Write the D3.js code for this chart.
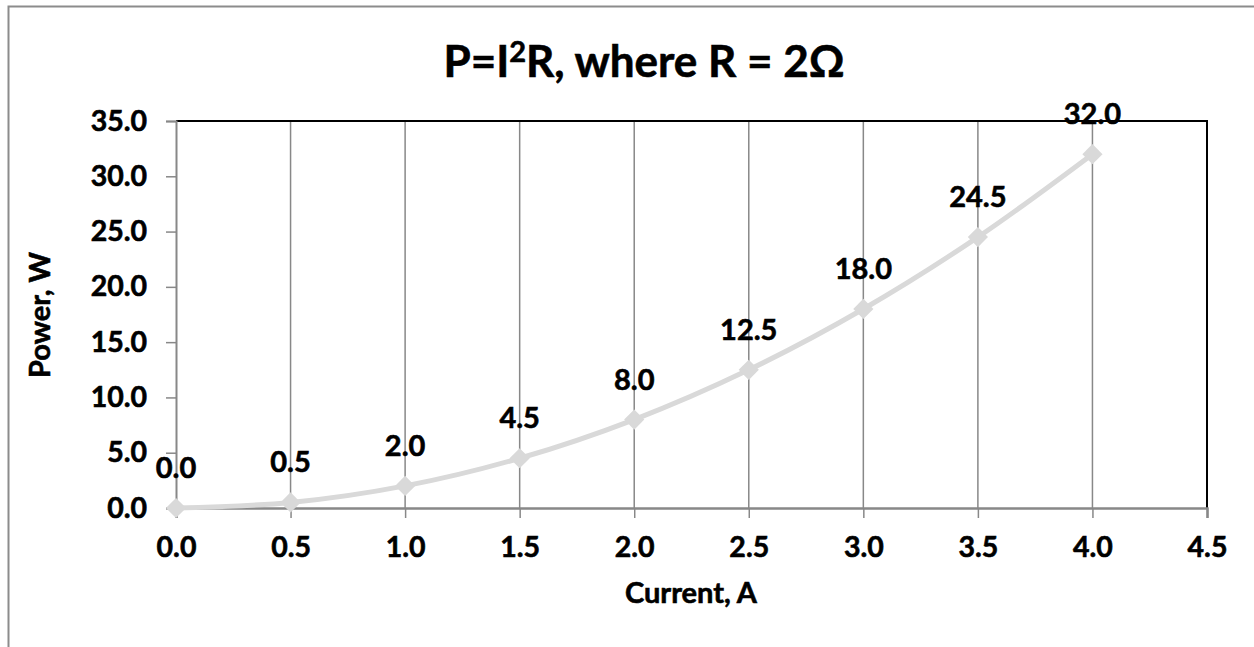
<!DOCTYPE html>
<html>
<head>
<meta charset="utf-8">
<script src="https://cdn.jsdelivr.net/npm/d3@7"></script>
<style>
  html, body { margin: 0; padding: 0; background: #fff; }
  svg { display: block; }
</style>
</head>
<body>
<svg id="chart" width="1254" height="647"></svg>
<script>
const current = [0.0, 0.5, 1.0, 1.5, 2.0, 2.5, 3.0, 3.5, 4.0];
const power = [0.0, 0.5, 2.0, 4.5, 8.0, 12.5, 18.0, 24.5, 32.0];
const xTicks = [0.0, 0.5, 1.0, 1.5, 2.0, 2.5, 3.0, 3.5, 4.0, 4.5];
const yTicks = [0.0, 5.0, 10.0, 15.0, 20.0, 25.0, 30.0, 35.0];
const titleMain = "P=I";
const titleSup = "2";
const titleRest = "R, where R = 2Ω";
const xTitle = "Current, A";
const yTitle = "Power, W";

(function () {
const svg = d3.select("#chart");
const W = 1254, H = 647;
const pL = 176, pR = 1207, pT = 121, pB = 508;
const FF = "Lato, 'Open Sans', sans-serif";
const styleText = sel => sel.attr("font-family", FF).attr("font-weight", "bold")
  .attr("fill", "#000").attr("stroke", "#000").attr("stroke-width", 0.6);

// outer chart frame (cropped)
svg.append("path")
  .attr("d", `M8.5,${H + 2} L8.5,6.5 L${W + 2},6.5`)
  .attr("fill", "none").attr("stroke", "#8c8c8c").attr("stroke-width", 2);

const x = d3.scaleLinear().domain([0, 4.5]).range([pL, pR]);
const y = d3.scaleLinear().domain([0, 35]).range([pB, pT]);

// vertical gridlines
svg.append("g").selectAll("line").data(xTicks.filter(d => d > 0 && d < 4.5)).join("line")
  .attr("x1", d => x(d)).attr("x2", d => x(d))
  .attr("y1", pT).attr("y2", pB)
  .attr("stroke", "#888").attr("stroke-width", 1.5);

// plot border top/right (black)
svg.append("path")
  .attr("d", `M${pL},${pT} L${pR},${pT} L${pR},${pB}`)
  .attr("fill", "none").attr("stroke", "#000").attr("stroke-width", 2);

// x axis
const xAxis = d3.axisBottom(x).tickValues(xTicks).tickFormat(d3.format(".1f")).tickSize(10).tickPadding(19);
const gx = svg.append("g").attr("transform", `translate(0,${pB})`).call(xAxis);
gx.select(".domain").attr("stroke", "#888").attr("stroke-width", 2.5);
gx.selectAll(".tick line").attr("stroke", "#888").attr("stroke-width", 1.5);
gx.selectAll(".tick text").attr("font-size", 28.5).call(styleText);

// y axis
const yAxis = d3.axisLeft(y).tickValues(yTicks).tickFormat(d3.format(".1f")).tickSize(10).tickPadding(19);
const gy = svg.append("g").attr("transform", `translate(${pL},0)`).call(yAxis);
gy.select(".domain").attr("stroke", "#888").attr("stroke-width", 2);
gy.selectAll(".tick line").attr("stroke", "#888").attr("stroke-width", 1.5);
gy.selectAll(".tick text").attr("font-size", 28.5).call(styleText);

// series line
const pts = current.map((c, i) => [c, power[i]]);
const line = d3.line().x(d => x(d[0])).y(d => y(d[1])).curve(d3.curveCatmullRom.alpha(0.5));
svg.append("path").datum(pts).attr("d", line)
  .attr("fill", "none").attr("stroke", "#d9d9d9").attr("stroke-width", 5).attr("stroke-linejoin", "round");

// markers
svg.append("g").selectAll("path").data(pts).join("path")
  .attr("d", d3.symbol().type(d3.symbolDiamond2).size(260))
  .attr("transform", d => `translate(${x(d[0])},${y(d[1])})`)
  .attr("fill", "#d9d9d9");

// data labels
svg.append("g").selectAll("text").data(pts).join("text")
  .attr("x", d => x(d[0])).attr("y", d => y(d[1]) - 30)
  .attr("text-anchor", "middle").attr("font-size", 29)
  .text(d => d3.format(".1f")(d[1]))
  .call(styleText);

// title
const t = svg.append("text").attr("x", 644).attr("y", 77).attr("text-anchor", "middle").attr("font-size", 44).call(styleText);
t.append("tspan").text(titleMain);
t.append("tspan").attr("dy", -15).attr("font-size", 29).text(titleSup);
t.append("tspan").attr("dy", 15).text(titleRest);

// axis titles
svg.append("text").attr("x", 691).attr("y", 603).attr("text-anchor", "middle").attr("font-size", 29).text(xTitle).call(styleText);
svg.append("text").attr("transform", "translate(50,315) rotate(-90)").attr("text-anchor", "middle").attr("font-size", 29).text(yTitle).call(styleText);
})();
</script>
</body>
</html>
